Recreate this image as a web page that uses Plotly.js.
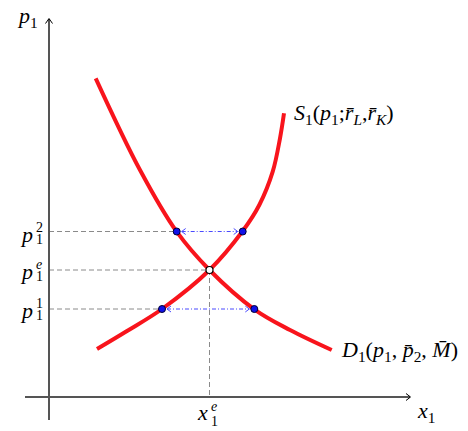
<!DOCTYPE html>
<html><head><meta charset="utf-8">
<script src="https://cdn.plot.ly/plotly-3.0.1.min.js"></script>
<style>html,body{margin:0;padding:0;background:#fff}</style>
</head><body><div id="chart" style="width:468px;height:431px"></div>
<script>
// Demand curve D1 (quantity x1, price p1)
const demandX = [4.67, 9.1, 12.77, 16.05, 20.53, 24.1, 28.27];
const demandY = [31.87, 22.7, 16.53, 12.7, 8.77, 6.7, 4.7];
// Supply curve S1
const supplyX = [4.8, 7.8, 11.3, 16.05, 19.37, 21.03, 22.37, 23.1, 23.5];
const supplyY = [4.8, 6.6, 8.8, 12.7, 16.6, 19.2, 22.53, 25.87, 28.37];
// Price levels and quantities
const priceP2 = 16.55, priceE = 12.7, priceP1 = 8.8;
const xe = 16.05;
const xD2 = 12.77, xS2 = 19.37;  // at p1^2
const xS1 = 11.3, xD1 = 20.53;   // at p1^1

const FONT = 'Liberation Serif, Times New Roman, serif';
const px2x = px => (px - 49) / 10;
const py2y = py => (397 - py) / 10;

const traces = [];
const gray = {color: '#8a8a8a', width: 1, dash: '5px,3px'};
// dashed guides
traces.push({x: [0, xD2], y: [priceP2, priceP2], mode: 'lines', line: gray});
traces.push({x: [0, xe], y: [priceE, priceE], mode: 'lines', line: gray});
traces.push({x: [xe, xe], y: [priceE, 0], mode: 'lines', line: gray});
traces.push({x: [0, xS1], y: [priceP1, priceP1], mode: 'lines', line: gray});
// blue dash-dot double arrows
const blueC = '#4a4aff';
const blue = {color: blueC, width: 1, dash: '4px,2px,1px,2px'};
function arrowTrace(xa, xb, y) {
  const a = xa + 0.5, b = xb - 0.5;
  traces.push({x: [a, b], y: [y, y], mode: 'lines', line: blue});
  traces.push({x: [a + 0.4, a, a + 0.4], y: [y + 0.3, y, y - 0.3], mode: 'lines', line: {color: blueC, width: 1}});
  traces.push({x: [b - 0.4, b, b - 0.4], y: [y + 0.3, y, y - 0.3], mode: 'lines', line: {color: blueC, width: 1}});
}
arrowTrace(xD2, xS2, priceP2);
arrowTrace(xS1, xD1, priceP1);
// curves
const red = {color: '#f8141c', width: 4, shape: 'spline', smoothing: 1};
traces.push({x: demandX, y: demandY, mode: 'lines', line: red});
traces.push({x: supplyX, y: supplyY, mode: 'lines', line: red});
// points
traces.push({x: [xD2, xS2, xS1, xD1], y: [priceP2, priceP2, priceP1, priceP1],
  mode: 'markers', marker: {size: 7, color: '#1010e8', line: {color: '#000033', width: 1}}});
traces.push({x: [xe], y: [priceE], mode: 'markers', marker: {size: 7, color: '#ffffff', line: {color: '#000', width: 1.2}}});

const ann = [];
function txt(text, px, py, size, xanchor) {
  ann.push({x: px2x(px), y: py2y(py), xref: 'x', yref: 'y', text: text, showarrow: false,
    xanchor: xanchor || 'center', yanchor: 'middle', borderpad: 0,
    font: {family: FONT, size: size, color: '#000'}});
}
function stacked(main, sup, sub, pxRight, yMain, ySup, ySub) {
  txt('<i>' + main + '</i>', pxRight, yMain, 22, 'right');
  txt(sup, pxRight + 0.5, ySup, 14, 'left');
  txt(sub, pxRight + 0.5, ySub, 14, 'left');
}
stacked('p', '2', '1', 34, 234, 227.5, 239);
stacked('p', '<i>e</i>', '1', 34, 271, 264.5, 276);
stacked('p', '1', '1', 34, 310, 303.5, 315);
stacked('x', '<i>e</i>', '1', 209, 412, 406, 421);
txt('<i>p</i><sub>1</sub>', 39, 17, 22, 'right');
txt('<i>x</i><sub>1</sub>', 426, 412, 22, 'center');
txt('<i>S</i><sub>1</sub>(<i>p</i><sub>1</sub>;<i>r̄</i><sub><i>L</i></sub>,<i>r̄</i><sub><i>K</i></sub>)', 293, 114, 22, 'left');
txt('<i>D</i><sub>1</sub>(<i>p</i><sub>1</sub>, <i>p̄</i><sub>2</sub>, <i>M̄</i>)', 340, 351, 22, 'left');

const axc = '#555';
const shapes = [
  {type: 'line', xref: 'x', yref: 'y', x0: px2x(25), y0: 0, x1: px2x(410), y1: 0, line: {color: axc, width: 2}},
  {type: 'line', xref: 'x', yref: 'y', x0: 0, y0: py2y(420), x1: 0, y1: py2y(19), line: {color: axc, width: 2}},
  {type: 'path', xref: 'x', yref: 'y', path: `M ${px2x(406)},0.35 L ${px2x(410.5)},0 L ${px2x(406)},-0.35`, line: {color: '#000', width: 1}},
  {type: 'path', xref: 'x', yref: 'y', path: `M -0.35,${py2y(23.5)} L 0,${py2y(18.5)} L 0.35,${py2y(23.5)}`, line: {color: '#000', width: 1}}
];

const layout = {
  width: 468, height: 431, margin: {l: 0, r: 0, t: 0, b: 0},
  paper_bgcolor: '#fff', plot_bgcolor: '#fff', showlegend: false,
  xaxis: {range: [px2x(0), px2x(468)], visible: false, fixedrange: true},
  yaxis: {range: [py2y(431), py2y(0)], visible: false, fixedrange: true},
  annotations: ann, shapes: shapes
};
Plotly.newPlot('chart', traces, layout, {staticPlot: true});
</script></body></html>
